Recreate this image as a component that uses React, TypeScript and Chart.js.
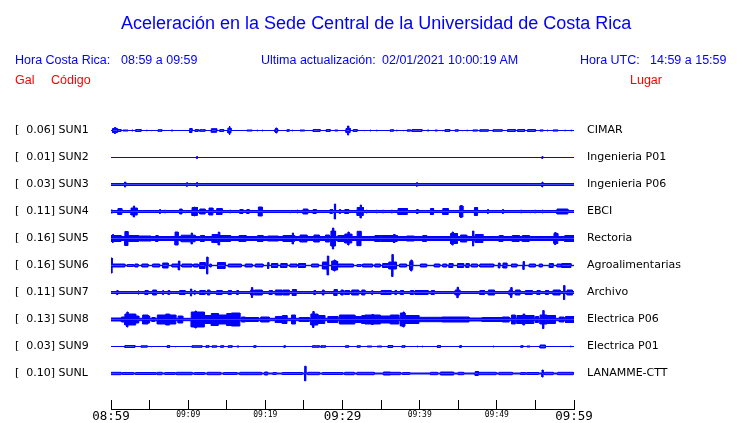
import React, { useEffect, useRef } from 'react';
import { Chart, registerables } from 'chart.js';

Chart.register(...registerables);

// ---------- data ----------
const STATION_CODES = ['SUN1', 'SUN2', 'SUN3', 'SUN4', 'SUN5', 'SUN6', 'SUN7', 'SUN8', 'SUN9', 'SUNL'];
const PEAK_GAL = ['0.06', '0.01', '0.03', '0.11', '0.16', '0.16', '0.11', '0.13', '0.03', '0.10'];
const PLACES = ['CIMAR', 'Ingenieria P01', 'Ingenieria P06', 'EBCI', 'Rectoria', 'Agroalimentarias', 'Archivo', 'Electrica P06', 'Electrica P01', 'LANAMME-CTT'];
const TICK_MINUTES = [0, 5, 10, 15, 20, 25, 30, 35, 40, 45, 50, 55, 60];
const TICK_LABELS = ['08:59', '', '09:09', '', '09:19', '', '09:29', '', '09:39', '', '09:49', '', '09:59'];
// half amplitude of the quiet background of each trace
const NOISE_FLOOR = [0.5, 0.5, 1.5, 1.5, 2.5, 0.7, 1.5, 1.7, 0.5, 1.0];

type Burst = [number, number, number]; // [start minute, end minute, half amplitude]

const SUN1_BURSTS: Burst[] = [
  [0.2, 0.8, 2.5], [0.45, 0.6, 3.5], [0.9, 1.3, 1.5], [1.55, 2.2, 1], [2.7, 2.85, 1], [3.2, 3.9, 1.5],
  [4.6, 4.7, 1], [5.2, 5.3, 1], [6.1, 6.6, 1.3], [7.0, 7.1, 1], [7.8, 8.0, 1], [10.2, 10.5, 2.5],
  [10.9, 11.3, 1.5], [11.5, 12.2, 1.3], [13.0, 13.7, 2.3], [14.1, 14.6, 1.5], [15.15, 15.55, 3], [15.3, 15.42, 5],
  [17.6, 18.3, 1], [18.9, 19.0, 1], [19.6, 19.7, 1], [21.25, 21.6, 2], [21.35, 21.5, 3], [22.8, 23.1, 1.3],
  [23.45, 23.55, 1], [24.5, 25.1, 1], [26.2, 27.1, 1.5], [27.9, 28.4, 1.5], [29.0, 29.4, 1],
  [30.45, 31.0, 2.5], [30.65, 30.8, 5], [31.4, 31.9, 1.5], [32.8, 32.9, 1], [33.6, 33.7, 1], [34.4, 34.5, 1],
  [36.2, 36.6, 1.3], [37.0, 37.1, 1], [37.85, 37.95, 1], [38.4, 38.8, 1.2], [39.0, 40.3, 1.5], [41.0, 41.2, 1],
  [42.0, 42.3, 1], [42.9, 43.0, 1], [43.3, 43.9, 1.5], [44.6, 45.0, 1.2], [45.5, 45.6, 1], [46.1, 46.2, 1],
  [46.9, 47.5, 1.1], [47.8, 48.9, 1.3], [49.5, 50.7, 1.3], [51.4, 52.4, 1.5], [52.7, 53.6, 1.5], [54.0, 55.0, 1.5],
  [55.6, 56.0, 1.1], [56.5, 56.6, 1], [57.3, 57.9, 1.1], [58.8, 58.9, 1], [59.6, 59.7, 1],
];
const SUN2_BURSTS: Burst[] = [[11.1, 11.2, 1.5], [55.85, 55.95, 1.5]];
const SUN3_BURSTS: Burst[] = [[1.75, 1.9, 3], [9.8, 9.9, 2.3], [11.1, 11.2, 2.5], [39.6, 39.7, 2.3], [55.85, 55.95, 3]];
const SUN4_BURSTS: Burst[] = [
  [0, 0.2, 2], [0.9, 1.4, 3.5], [2.6, 3.4, 4], [2.9, 3.05, 6], [6.3, 6.4, 2.5], [6.95, 7.05, 2], [8.9, 9.2, 3],
  [9.6, 9.7, 2], [10.5, 11.2, 4.5], [10.8, 10.9, 5], [11.5, 12.2, 3], [12.7, 13.2, 4], [13.7, 14.4, 3.5],
  [15.4, 15.5, 2], [16.7, 17.1, 2.5], [17.6, 17.9, 2.5], [19.1, 19.6, 5], [23.2, 23.3, 2], [24.1, 24.2, 2],
  [24.9, 25.5, 3], [26.2, 26.6, 2.5], [28.4, 28.7, 2.5], [28.95, 29.1, 8], [29.6, 29.75, 2.5],
  [30.3, 30.8, 2.5], [31.9, 32.7, 4.5], [32.3, 32.45, 7], [33.1, 33.2, 2], [34.4, 34.5, 2], [35.2, 35.3, 2],
  [36.35, 36.45, 2], [37.2, 38.4, 3.5], [39.6, 39.8, 2.5], [41.4, 41.8, 3.5], [43.0, 43.7, 3.5], [45.2, 45.6, 6],
  [45.3, 45.45, 6.5], [47.1, 47.5, 4.5], [48.8, 48.9, 2.5], [50.75, 50.85, 2.5], [53.1, 53.2, 2], [54.3, 54.4, 2],
  [54.9, 55.0, 2], [55.9, 56.0, 2], [57.8, 59.2, 3],
];
const SUN5_BURSTS: Burst[] = [
  [0, 1.3, 3.5], [0.2, 0.3, 4.5], [1.8, 2.2, 7.5], [2.3, 3.6, 3.5], [3.7, 5.2, 3], [5.8, 6.1, 3.5], [8.3, 8.7, 7],
  [9.1, 10.9, 3.8], [10.4, 10.55, 6], [11.6, 12.1, 3.5], [13.1, 14.1, 4.5], [13.9, 14.05, 7], [14.1, 15.5, 3.5],
  [16.6, 17.5, 3.5], [19.0, 19.7, 3.5], [20.3, 21.7, 3], [22.3, 23.8, 3.5], [23.5, 23.65, 6], [24.5, 25.4, 4],
  [26.3, 27.0, 4], [27.8, 28.3, 4], [28.5, 29.1, 8], [28.7, 28.85, 11], [29.4, 30.3, 3.5],
  [30.3, 31.2, 5], [30.7, 30.85, 7], [31.9, 32.4, 7.7], [34.2, 34.9, 3.5], [35.0, 37.1, 3.5], [36.6, 36.8, 4.5],
  [38.3, 39.3, 3], [40.4, 40.9, 3.5], [44.0, 44.9, 5.5], [44.2, 44.35, 7], [45.3, 46.1, 4], [46.85, 47.0, 8],
  [47.2, 48.2, 4.5], [50.3, 50.8, 3.5], [52.0, 52.9, 3.5], [53.3, 54.2, 3.5], [57.4, 57.9, 5.5], [57.5, 57.65, 6.5],
  [58.8, 60, 3.5],
];
const SUN6_BURSTS: Burst[] = [
  [0, 0.15, 8], [0.15, 1.8, 2], [2.1, 2.9, 1.5], [3.1, 3.5, 2], [4.0, 4.8, 2], [5.4, 6.3, 2], [6.7, 7.4, 3],
  [7.9, 8.7, 2], [8.75, 8.9, 5], [9.2, 10.5, 2], [10.7, 11.3, 2], [11.5, 12.2, 3.5], [12.4, 12.55, 9],
  [12.8, 13.0, 2], [13.8, 14.8, 3.5], [15.2, 16.9, 2], [17.4, 18.3, 2], [18.7, 19.7, 2], [20.3, 20.45, 3.5],
  [20.8, 21.6, 2.5], [22.0, 22.8, 2.5], [23.2, 24.1, 2], [24.3, 25.2, 2.5], [26.0, 26.9, 2], [27.4, 28.0, 4],
  [28.05, 28.2, 10], [28.6, 29.3, 5], [28.9, 29.05, 6], [29.4, 30.3, 2],
  [30.3, 31.4, 2], [31.9, 32.4, 1.5], [32.6, 33.9, 2], [34.2, 34.9, 2], [35.2, 36.0, 2.5], [36.0, 37.0, 4],
  [36.4, 36.55, 11.5], [37.4, 38.3, 2], [38.7, 39.1, 4.5], [38.85, 39.0, 6], [40.1, 40.9, 2], [41.9, 42.6, 2],
  [43.0, 43.5, 2], [43.8, 44.3, 2.5], [44.9, 45.7, 2.5], [46.0, 46.4, 2.5], [46.7, 47.5, 2], [47.8, 49.6, 2],
  [50.2, 50.4, 3], [50.8, 51.3, 3], [51.9, 52.6, 2], [53.4, 53.55, 4.5], [54.2, 55.0, 2], [55.5, 55.9, 2],
  [56.8, 57.3, 2.5], [57.8, 58.3, 2], [58.4, 59.6, 2.5],
];
const SUN7_BURSTS: Burst[] = [
  [0.75, 0.9, 2.5], [3.5, 3.6, 2.5], [4.4, 4.8, 2.5], [5.4, 5.9, 3], [6.7, 6.8, 2.5], [7.4, 7.6, 2.5],
  [8.9, 9.6, 2.5], [10.3, 10.45, 4], [10.8, 10.9, 2.5], [11.5, 12.2, 2.5], [12.5, 12.8, 3], [13.7, 14.4, 2.5],
  [15.2, 15.6, 2.5], [16.3, 16.5, 2.5], [18.1, 18.5, 3], [18.2, 18.35, 5.5], [18.6, 19.6, 3], [20.5, 20.9, 2.5],
  [21.3, 22.2, 3], [22.3, 23.1, 3], [23.5, 24.0, 3.5], [26.3, 26.5, 2.5], [27.4, 27.6, 3], [28.9, 29.3, 3.5],
  [29.8, 30.1, 3], [30.3, 30.9, 2.5], [31.2, 32.1, 3], [32.5, 32.9, 3], [33.8, 33.9, 2.5], [35.0, 36.3, 2.5],
  [36.8, 37.0, 2.5], [37.5, 37.9, 2.5], [38.8, 39.2, 2.5], [39.4, 41.1, 2.5], [41.5, 41.9, 2.5], [44.6, 45.2, 3],
  [44.85, 45.0, 5.7], [47.8, 48.4, 2.5], [48.9, 49.7, 3], [51.6, 52.0, 3], [51.8, 51.95, 5.5], [52.4, 53.0, 3],
  [53.7, 54.6, 2.5], [55.2, 55.6, 2.5], [56.3, 56.7, 2.5], [57.3, 58.2, 3], [58.65, 58.8, 7.5], [59.1, 59.8, 3],
];
const SUN8_BURSTS: Burst[] = [
  [0, 1.3, 2], [1.4, 1.8, 3], [1.8, 3.2, 6], [2.05, 2.2, 8], [3.2, 3.6, 4], [4.1, 4.8, 5], [4.8, 5.0, 4],
  [5.3, 5.7, 2.5], [6.0, 8.4, 5], [7.1, 7.6, 6], [8.7, 9.3, 4], [10.4, 12.1, 8], [10.9, 11.05, 9],
  [12.1, 13.0, 4.5], [13.0, 13.9, 6.5], [13.9, 15.0, 5], [15.0, 15.6, 6.5], [15.6, 16.7, 7], [16.9, 17.4, 3],
  [17.4, 19.1, 2.5], [19.4, 20.5, 3], [21.3, 22.2, 3.5], [22.2, 22.8, 4.5], [23.4, 23.9, 5], [24.4, 25.7, 2.5],
  [25.9, 26.8, 6], [26.15, 26.3, 8.5], [26.8, 27.7, 4.5], [28.1, 29.4, 3.5], [29.6, 30.3, 5],
  [30.3, 31.6, 5], [31.6, 32.5, 3.5], [32.5, 32.9, 4.5], [32.9, 34.9, 5], [33.8, 34.0, 5.5], [34.9, 36.2, 4],
  [36.2, 37.3, 5], [37.5, 38.1, 7], [37.85, 38.0, 8], [38.1, 39.9, 4.5], [39.9, 42.9, 2.7], [42.9, 46.4, 3],
  [46.4, 48.1, 2], [48.1, 50.7, 2.5], [50.7, 51.6, 3], [51.9, 52.4, 5], [52.6, 54.8, 4.5], [53.4, 53.6, 6],
  [55.0, 55.4, 3.5], [55.6, 56.5, 5], [55.95, 56.1, 9.5], [56.5, 57.6, 4.5], [58.1, 58.7, 3], [58.9, 60, 3.5],
];
const SUN9_BURSTS: Burst[] = [
  [1.8, 3.1, 1.5], [3.9, 4.7, 1.2], [5.2, 5.3, 1], [7.3, 7.6, 1.5], [8.3, 8.4, 1], [10.5, 11.8, 1.3],
  [12.3, 12.7, 1.3], [13.1, 13.7, 1.2], [14.2, 14.6, 1.3], [15.2, 15.7, 1.3], [16.3, 16.6, 1], [18.5, 18.8, 1.3],
  [22.4, 22.6, 1.3], [26.1, 27.0, 1.3], [27.2, 27.8, 1.3], [30.4, 30.8, 1.3], [31.9, 32.3, 1.3], [33.2, 33.8, 1],
  [34.5, 35.1, 1], [35.9, 36.5, 1.5], [37.7, 38.1, 1.3], [38.9, 39.0, 1], [39.7, 39.8, 1], [40.3, 40.4, 1],
  [42.3, 42.7, 1.5], [45.2, 45.4, 1.5], [49.5, 49.6, 1], [53.1, 53.4, 1.3], [53.9, 54.3, 1], [55.6, 56.3, 2],
  [56.9, 57.0, 1], [59.5, 59.6, 1.2],
];
const SUNL_BURSTS: Burst[] = [
  [0, 1.3, 1.7], [1.5, 2.9, 1.5], [3.2, 5.8, 1.5], [6.0, 6.6, 1.7], [7.0, 8.3, 1.5], [8.5, 10.5, 1.7],
  [10.8, 12.1, 1.5], [12.5, 14.2, 1.7], [14.6, 16.3, 1.5], [16.7, 19.5, 1.7], [19.9, 20.3, 2], [21.0, 21.4, 1.5],
  [22.2, 24.8, 1.5], [25.1, 25.25, 7.8], [25.5, 27.0, 1.7], [27.4, 30.0, 1.5], [30.3, 31.5, 1.7], [31.9, 34.1, 1.7],
  [35.3, 36.2, 2], [36.2, 37.5, 1.7], [37.8, 38.7, 1.5], [41.4, 42.3, 1.7], [42.7, 44.4, 2], [45.0, 45.7, 1.7],
  [47.2, 47.6, 2.5], [47.7, 49.9, 1.7], [50.3, 52.0, 1.7], [53.1, 53.7, 1.5], [53.9, 55.4, 1.5], [55.85, 56.0, 4],
  [56.2, 57.3, 1.7], [57.9, 59.9, 1.7],
];

const BURSTS = [SUN1_BURSTS, SUN2_BURSTS, SUN3_BURSTS, SUN4_BURSTS, SUN5_BURSTS, SUN6_BURSTS, SUN7_BURSTS, SUN8_BURSTS, SUN9_BURSTS, SUNL_BURSTS];

// ---------- layout / style ----------
const W = 740;
const H = 423;
const SPACING = 27;
const Y_MIN = -35.5;
const Y_MAX = 263.5;
const BLUE = '#0000ff';
const RED = '#ff0000';
const STROKE = 1;

function centerOf(i: number) {
  return (STATION_CODES.length - 1 - i) * SPACING;
}
const TRACE_CENTERS = STATION_CODES.map((_, i) => centerOf(i));

// step envelope: for each breakpoint interval the largest half amplitude covering it
function envelope(base: number, segs: Burst[]) {
  const set = new Set<number>([0, 60]);
  segs.forEach(([s, e]) => {
    set.add(Math.max(0, Math.min(60, s)));
    set.add(Math.max(0, Math.min(60, e)));
  });
  const xs = Array.from(set).sort((a, b) => a - b);
  const pts: { x: number; a: number }[] = [];
  for (let k = 0; k < xs.length - 1; k++) {
    const mid = (xs[k] + xs[k + 1]) / 2;
    let a = base;
    for (const [s, e, h] of segs) if (mid >= s && mid <= e && h > a) a = h;
    pts.push({ x: xs[k], a });
    pts.push({ x: xs[k + 1], a });
  }
  return pts;
}

function buildDatasets() {
  const ds: any[] = [];
  STATION_CODES.forEach((code, i) => {
    const c = centerOf(i);
    const env = envelope(NOISE_FLOOR[i], BURSTS[i]);
    const common = {
      borderColor: BLUE,
      backgroundColor: BLUE,
      borderWidth: STROKE,
      pointRadius: 0,
      tension: 0,
      fill: { value: c },
      yAxisID: 'y',
      xAxisID: 'x',
    };
    ds.push({ ...common, label: code + '+', data: env.map((p) => ({ x: p.x, y: c + Math.max(0, p.a - STROKE / 2) })) });
    ds.push({ ...common, label: code + '-', data: env.map((p) => ({ x: p.x, y: c - Math.max(0, p.a - STROKE / 2) })) });
  });
  return ds;
}

export default function App() {
  const ref = useRef<HTMLCanvasElement | null>(null);

  useEffect(() => {
    if (!ref.current) return;
    const chart = new Chart(ref.current, {
      type: 'line',
      data: { datasets: buildDatasets() },
      options: {
        animation: false,
        responsive: false,
        devicePixelRatio: 1,
        events: [],
        layout: { padding: { top: 110, left: 15, right: 0, bottom: 0 } },
        plugins: { legend: { display: false }, tooltip: { enabled: false }, title: { display: false } },
        scales: {
          x: {
            type: 'linear',
            position: 'bottom',
            min: 0,
            max: 60,
            afterBuildTicks: (s: any) => {
              s.ticks = TICK_MINUTES.map((v) => ({ value: v }));
            },
            afterFit: (s: any) => {
              s.height = 14;
            },
            grid: { display: true, drawOnChartArea: false, drawTicks: true, tickLength: -9, color: '#000', lineWidth: 1 },
            border: { display: true, color: '#000', width: 1 },
            ticks: {
              autoSkip: false,
              maxRotation: 0,
              minRotation: 0,
              padding: 9,
              color: '#000',
              font: (ctx: any) =>
                ctx.tick && ctx.tick.value % 30 === 0
                  ? { family: 'DejaVu Sans Mono', size: 12.5, lineHeight: 1.2 }
                  : { family: 'DejaVu Sans Mono', size: 8, lineHeight: 1.6 },
              callback: (_v: any, i: number) => TICK_LABELS[i],
            },
          },
          y: {
            type: 'linear',
            position: 'left',
            min: Y_MIN,
            max: Y_MAX,
            afterBuildTicks: (s: any) => {
              s.ticks = TRACE_CENTERS.map((v) => ({ value: v }));
            },
            afterFit: (s: any) => {
              s.width = 96;
            },
            grid: { display: false, drawTicks: false },
            border: { display: false },
            ticks: {
              autoSkip: false,
              crossAlign: 'far',
              padding: 0,
              color: '#000',
              font: { family: 'DejaVu Sans', size: 11 },
              callback: (_v: any, i: number) => `[  ${PEAK_GAL[i]}] ${STATION_CODES[i]}`,
            },
          },
          yRight: {
            type: 'linear',
            position: 'right',
            min: Y_MIN,
            max: Y_MAX,
            afterBuildTicks: (s: any) => {
              s.ticks = TRACE_CENTERS.map((v) => ({ value: v }));
            },
            afterFit: (s: any) => {
              s.width = 166;
            },
            grid: { display: false, drawTicks: true, tickLength: 13 },
            border: { display: false },
            ticks: {
              autoSkip: false,
              crossAlign: 'near',
              padding: 0,
              color: '#000',
              font: { family: 'DejaVu Sans', size: 11 },
              callback: (_v: any, i: number) => PLACES[i],
            },
          },
        },
      } as any,
    });
    return () => chart.destroy();
  }, []);

  const txt = (size: number, color: string): React.CSSProperties => ({
    position: 'absolute',
    fontFamily: '"Liberation Sans", Arial, sans-serif',
    fontSize: size,
    lineHeight: 1,
    color,
    whiteSpace: 'pre',
    margin: 0,
  });

  return (
    <div style={{ position: 'fixed', left: 0, top: 0, width: W, height: H, background: '#fff' }}>
      <canvas ref={ref} width={W} height={H} style={{ position: 'absolute', left: 0, top: 0, width: W, height: H }} />
      <div style={{ ...txt(18, BLUE), left: 121, top: 14 }}>Aceleración en la Sede Central de la Universidad de Costa Rica</div>
      <div style={{ ...txt(12.5, BLUE), left: 15, top: 54 }}>Hora Costa Rica:</div>
      <div style={{ ...txt(12.5, BLUE), left: 121, top: 54 }}>08:59 a 09:59</div>
      <div style={{ ...txt(12.5, BLUE), left: 261, top: 54 }}>Ultima actualización:</div>
      <div style={{ ...txt(12.5, BLUE), left: 382, top: 54 }}>02/01/2021 10:00:19 AM</div>
      <div style={{ ...txt(12.5, BLUE), left: 580, top: 54 }}>Hora UTC:</div>
      <div style={{ ...txt(12.5, BLUE), left: 650, top: 54 }}>14:59 a 15:59</div>
      <div style={{ ...txt(12.5, RED), left: 15, top: 74 }}>Gal</div>
      <div style={{ ...txt(12.5, RED), left: 51, top: 74 }}>Código</div>
      <div style={{ ...txt(12.5, RED), left: 630, top: 74 }}>Lugar</div>
    </div>
  );
}
